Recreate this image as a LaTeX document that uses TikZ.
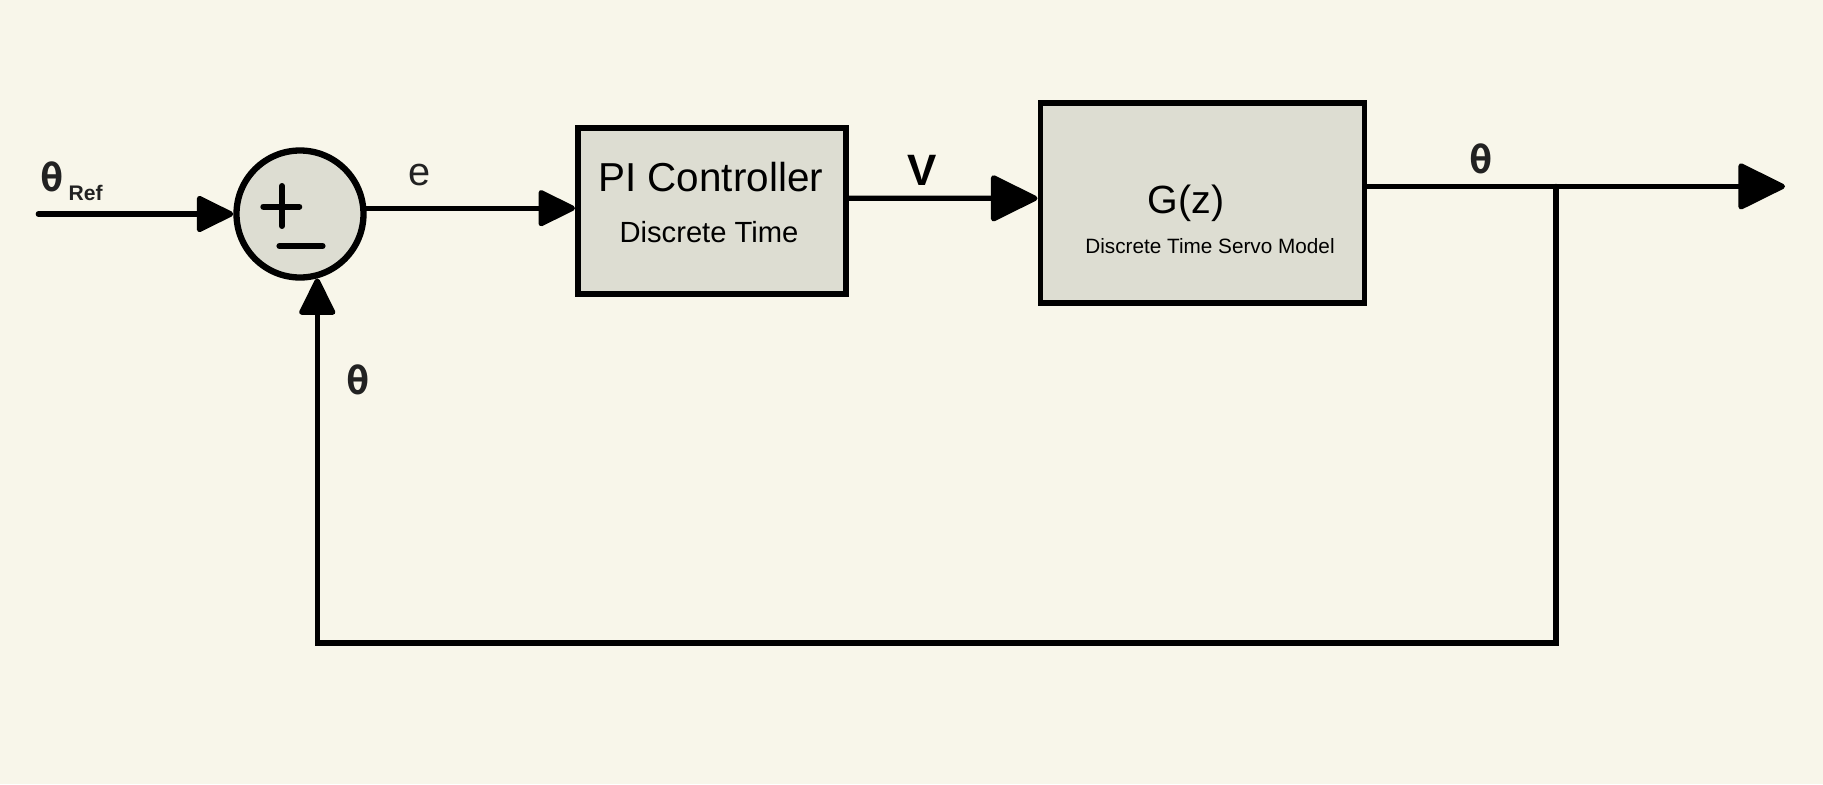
\documentclass[tikz,border=0pt]{standalone}
\usepackage{fontspec}
\setmainfont{Liberation Sans}
\newfontfamily\thetafont{DejaVu Sans Mono}
\usetikzlibrary{
    arrows.meta,
    positioning,
    calc
}
\definecolor{paper}{RGB}{248,246,234}
\definecolor{blockgray}{RGB}{221,221,210}
\definecolor{labelgray}{RGB}{34,34,34}

\begin{document}
\begin{tikzpicture}[
    x=1cm, y=1cm,
    block/.style={
        rectangle, draw, line width=1.7pt,
        fill=blockgray, inner sep=0pt
    },
    summer/.style={
        circle, draw, line width=1.8pt, fill=blockgray,
        minimum size=1.27cm, inner sep=0pt
    },
    wire/.style={line width=1.5pt, line cap=round},
    sign/.style={line width=1.7pt, line cap=round},
    arrow/.style={wire, -{Triangle[length=4mm, width=3.8mm, round]}},
    bigarrow/.style={wire, -{Triangle[length=5mm, width=4.8mm, round]}},
    theta/.style={font=\thetafont\bfseries\fontsize{11}{11}\selectfont, text=labelgray}
]

% Background
\fill[paper] (0,0) rectangle (18.23,7.84);

% Blocks
\node[summer] (sum) at (3.0,5.70) {};
\node[block, minimum width=2.68cm, minimum height=1.66cm] (pi) at (7.12,5.73) {};
\node[block, minimum width=3.24cm, minimum height=2.0cm] (g) at (12.025,5.813) {};

% Block texts
\node[font=\fontsize{11.5}{12}\selectfont] (pititle) at (7.107,6.073) {PI Controller};
\node[font=\fontsize{8.3}{9}\selectfont] (pisub) at (7.09,5.523) {Discrete Time};
\node[font=\fontsize{11.2}{12}\selectfont] (gtitle) at (11.86,5.807) {G(z)};
\node[font=\fontsize{5.9}{6}\selectfont] (gsub) at (12.10,5.383) {Discrete Time Servo Model};

% Plus and minus signs
\draw[sign] ($(sum)+(-0.367,0.073)$) -- ($(sum)+(-0.007,0.073)$);
\draw[sign] ($(sum)+(-0.18,0.28)$) -- ($(sum)+(-0.18,-0.12)$);
\draw[sign] ($(sum)+(-0.206,-0.32)$) -- ($(sum)+(0.226,-0.32)$);

% Signal path
\coordinate (in) at (0.383,5.70);
\coordinate (tap) at (15.56,5.976);
\coordinate (out) at (17.85,5.976);
\coordinate (corner) at (15.56,1.411);

\draw[arrow] (in) -- (sum.west);
\draw[arrow] (sum.5) -- (sum.5 -| pi.west);
\draw[bigarrow] ($(pi.east)+(0,0.127)$) -- ($(g.west)+(0,0.044)$);
\draw[wire] ($(g.east)+(0,0.163)$) -- (tap);
\draw[bigarrow] (tap) -- (out);

% Feedback
\draw[arrow] (tap) -- (corner) -| (sum.-75);

% Signal labels
\node[theta] (thref) at (0.52,6.067) {θ};
\node[font=\bfseries\fontsize{6}{6}\selectfont, text=labelgray] (ref) at (0.857,5.913) {Ref};
\node[font=\fontsize{11.3}{12}\selectfont, text=labelgray] (elabel) at (4.198,6.09) {e};
\node[font=\bfseries\fontsize{12.5}{13}\selectfont] (vlabel) at (9.226,6.137) {V};
\node[theta] (thout) at (14.81,6.251) {θ};
\node[theta] (thfb) at (3.586,4.04) {θ};

\end{tikzpicture}
\end{document}
